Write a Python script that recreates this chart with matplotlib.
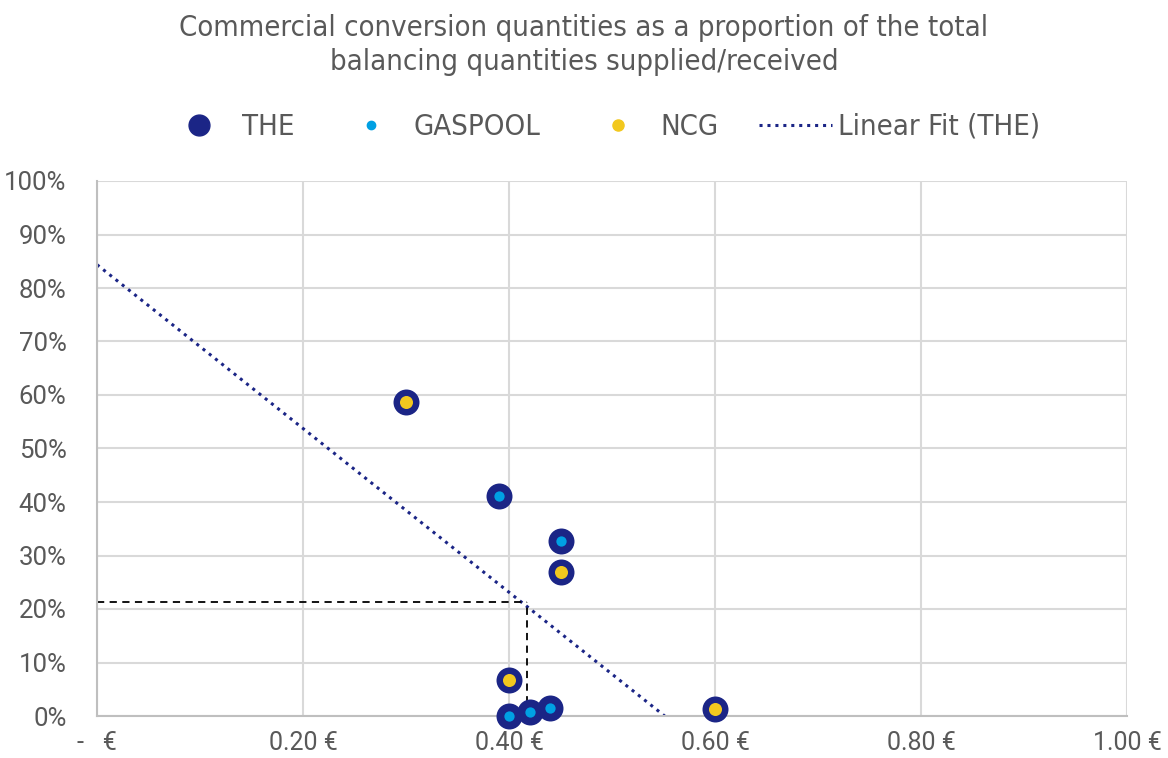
# Commercial conversion quantities vs. price scatter

import numpy as np
import matplotlib.pyplot as plt
from matplotlib.ticker import FuncFormatter, MultipleLocator
from matplotlib.lines import Line2D

TITLE = 'Commercial conversion quantities as a proportion of the total\nbalancing quantities supplied/received'

# data (price in EUR, share of balancing quantities)
the_x = [0.30, 0.39, 0.45, 0.45, 0.40, 0.40, 0.42, 0.44, 0.60]
the_y = [0.587, 0.411, 0.328, 0.270, 0.068, 0.000, 0.0075, 0.015, 0.013]
gaspool_x = [0.39, 0.45, 0.40, 0.42, 0.44]
gaspool_y = [0.411, 0.328, 0.000, 0.0075, 0.015]
ncg_x = [0.30, 0.45, 0.40, 0.60]
ncg_y = [0.587, 0.270, 0.068, 0.013]
# reading marker on the fit line
mark_x = 0.4175
mark_y = 0.213

NAVY = '#1B2586'
LIGHTBLUE = '#00A0E3'
YELLOW = '#F2C81E'
TEXT = '#595959'

plt.rcParams['font.family'] = ['DejaVu Sans']

fig = plt.figure(figsize=(11.68, 7.58), dpi=100)
ax = fig.add_axes([97 / 1168, 1 - 716 / 758, 1030 / 1168, 535 / 758])

ax.scatter(the_x, the_y, s=350, color=NAVY, zorder=3, linewidths=0, clip_on=False)
ax.scatter(gaspool_x, gaspool_y, s=55, color=LIGHTBLUE, zorder=4, linewidths=0,
           clip_on=False)
ax.scatter(ncg_x, ncg_y, s=88, color=YELLOW, zorder=4, linewidths=0, clip_on=False)

# linear trend line of THE
slope, intercept = np.polyfit(the_x, the_y, 1)
x_end = -intercept / slope
xs = np.array([0, x_end])
ax.plot(xs, slope * xs + intercept, color=NAVY, lw=2.2,
        linestyle=(0, (1, 1.6)), zorder=2)

ax.plot([0, mark_x], [mark_y, mark_y], color='black', lw=1.3,
        linestyle=(0, (4, 3)), zorder=2)
ax.plot([mark_x, mark_x], [0, mark_y], color='black', lw=1.3,
        linestyle=(0, (4, 3)), zorder=2)

ax.set_xlim(0, 1.0)
ax.set_ylim(0, 1.0)
ax.xaxis.set_major_locator(MultipleLocator(0.2))
ax.yaxis.set_major_locator(MultipleLocator(0.1))
ax.xaxis.set_major_formatter(FuncFormatter(
    lambda v, p: '-   €' if abs(v) < 1e-9 else f'{v:.2f} €'))
ax.yaxis.set_major_formatter(FuncFormatter(lambda v, p: f'{v * 100:.0f}%'))

ax.grid(True, color='#D9D9D9', lw=1.5)
ax.set_axisbelow(True)
for side in ['top', 'right']:
    ax.spines[side].set_visible(False)
for side in ['left', 'bottom']:
    ax.spines[side].set_color('#BFBFBF')
    ax.spines[side].set_linewidth(1.5)
ax.tick_params(length=0, colors=TEXT, labelsize=18.5)
ax.tick_params(axis='x', pad=11, labelsize=18)
ax.tick_params(axis='y', pad=22)
for lab in ax.get_xticklabels() + ax.get_yticklabels():
    lab.set_family(['Roboto', 'DejaVu Sans'])

fig.text(0.5, 1 - 45 / 758, TITLE, ha='center', va='center', fontsize=21,
         color=TEXT, linespacing=1.3, fontstretch='condensed')

handles = [
    Line2D([], [], marker='o', ls='none', color=NAVY, markersize=15),
    Line2D([], [], marker='o', ls='none', color=LIGHTBLUE, markersize=6),
    Line2D([], [], marker='o', ls='none', color=YELLOW, markersize=8),
    Line2D([], [], color=NAVY, lw=2.2, linestyle=(0, (1, 1.6))),
]
labels = ['THE', 'GASPOOL', 'NCG', 'Linear Fit (THE)']
leg = fig.legend(handles, labels, loc='center', bbox_to_anchor=(0.515, 1 - 127 / 758),
                 ncol=4, frameon=False, fontsize=21, labelcolor=TEXT,
                 columnspacing=1.4, handlelength=2.5, handletextpad=0.2)
for t in leg.get_texts():
    t.set_fontstretch('condensed')

fig.savefig('out.png', dpi=100)
